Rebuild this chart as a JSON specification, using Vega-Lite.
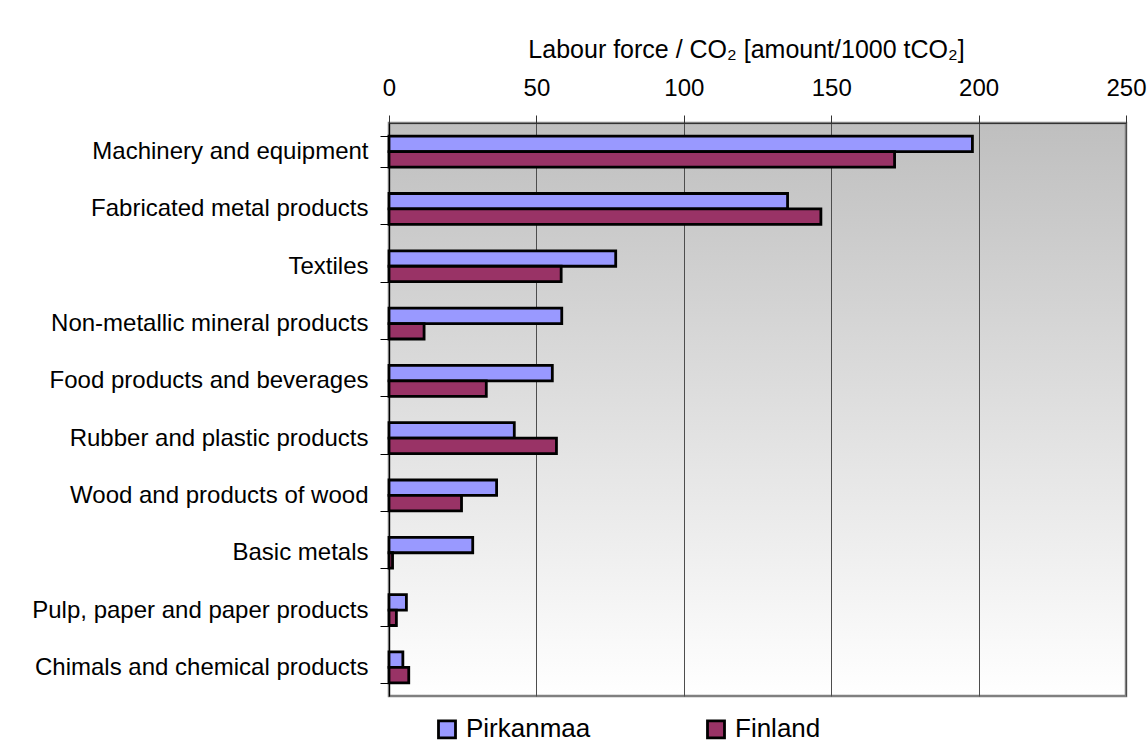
{
  "$schema": "https://vega.github.io/schema/vega-lite/v6.json",
  "width": 737,
  "height": 573,
  "autosize": "none",
  "padding": {"left": 389, "top": 123, "right": 22, "bottom": 49},
  "background": "#ffffff",
  "config": {
    "font": "Liberation Sans",
    "view": {
      "stroke": "#808080",
      "strokeWidth": 2.5,
      "fill": {
        "gradient": "linear",
        "x1": 0, "y1": 0, "x2": 0, "y2": 1,
        "stops": [
          {"offset": 0, "color": "#bfbfbf"},
          {"offset": 1, "color": "#ffffff"}
        ]
      }
    }
  },
  "data": {
    "values": [
      {"sector": "Machinery and equipment", "region": "Pirkanmaa", "value": 197.9},
      {"sector": "Machinery and equipment", "region": "Finland", "value": 171.5},
      {"sector": "Fabricated metal products", "region": "Pirkanmaa", "value": 135.2},
      {"sector": "Fabricated metal products", "region": "Finland", "value": 146.5},
      {"sector": "Textiles", "region": "Pirkanmaa", "value": 76.9},
      {"sector": "Textiles", "region": "Finland", "value": 58.4},
      {"sector": "Non-metallic mineral products", "region": "Pirkanmaa", "value": 58.6},
      {"sector": "Non-metallic mineral products", "region": "Finland", "value": 11.9},
      {"sector": "Food products and beverages", "region": "Pirkanmaa", "value": 55.4},
      {"sector": "Food products and beverages", "region": "Finland", "value": 33.0},
      {"sector": "Rubber and plastic products", "region": "Pirkanmaa", "value": 42.5},
      {"sector": "Rubber and plastic products", "region": "Finland", "value": 56.8},
      {"sector": "Wood and products of wood", "region": "Pirkanmaa", "value": 36.5},
      {"sector": "Wood and products of wood", "region": "Finland", "value": 24.6},
      {"sector": "Basic metals", "region": "Pirkanmaa", "value": 28.4},
      {"sector": "Basic metals", "region": "Finland", "value": 1.2},
      {"sector": "Pulp, paper and paper products", "region": "Pirkanmaa", "value": 5.9},
      {"sector": "Pulp, paper and paper products", "region": "Finland", "value": 2.5},
      {"sector": "Chimals and chemical products", "region": "Pirkanmaa", "value": 4.7},
      {"sector": "Chimals and chemical products", "region": "Finland", "value": 6.7}
    ]
  },
  "mark": {"type": "bar", "stroke": "#000000", "strokeWidth": 2.8},
  "encoding": {
    "y": {
      "field": "sector",
      "type": "nominal",
      "sort": null,
      "scale": {"paddingInner": 0.46, "paddingOuter": 0.23},
      "axis": {
        "title": null,
        "labelFontSize": 24,
        "labelColor": "#000000",
        "labelPadding": 12,
        "labelLimit": 400,
        "tickSize": 9,
        "tickColor": "#000000",
        "tickBand": "extent",
        "domainColor": "#000000",
        "domainWidth": 1.2,
        "grid": false
      }
    },
    "yOffset": {
      "field": "region",
      "type": "nominal",
      "sort": ["Pirkanmaa", "Finland"],
      "scale": {"paddingInner": 0, "paddingOuter": 0}
    },
    "x": {
      "field": "value",
      "type": "quantitative",
      "scale": {"domain": [0, 250], "nice": false},
      "axis": {
        "orient": "top",
        "values": [0, 50, 100, 150, 200, 250],
        "title": "Labour force / CO₂ [amount/1000 tCO₂]",
        "titleFontSize": 25,
        "titleFontWeight": "normal",
        "titleColor": "#000000",
        "titlePadding": 14,
        "titleX": 357,
        "titleAlign": "center",
        "labelFontSize": 24,
        "labelColor": "#000000",
        "labelPadding": 15,
        "labelFlush": false,
        "tickSize": 8,
        "tickColor": "#333333",
        "domainColor": "#333333",
        "domainWidth": 1.2,
        "grid": true,
        "gridColor": "#4d4d4d",
        "gridWidth": 1,
        "gridOpacity": 1
      }
    },
    "fill": {
      "field": "region",
      "type": "nominal",
      "sort": ["Pirkanmaa", "Finland"],
      "scale": {"domain": ["Pirkanmaa", "Finland"], "range": ["#9999ff", "#993366"]},
      "legend": {
        "title": null,
        "orient": "none",
        "direction": "horizontal",
        "legendX": 45,
        "legendY": 593,
        "symbolType": "square",
        "symbolSize": 289,
        "symbolStrokeColor": "#000000",
        "symbolStrokeWidth": 2.8,
        "symbolOpacity": 1,
        "labelFontSize": 26,
        "labelColor": "#000000",
        "labelOffset": 6,
        "columnPadding": 110
      }
    }
  }
}
